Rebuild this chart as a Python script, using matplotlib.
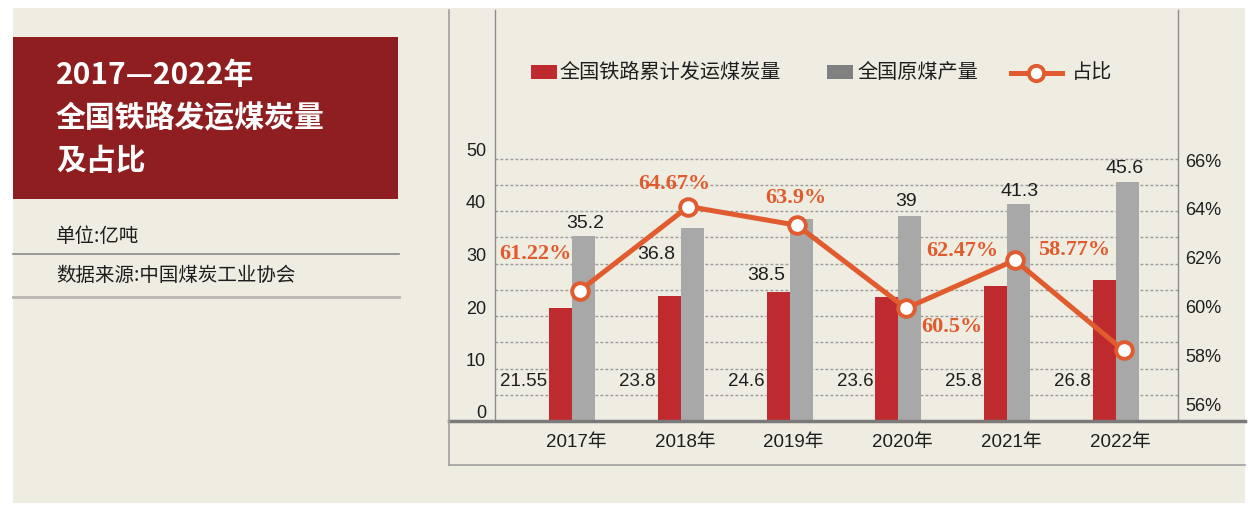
import numpy as np
import matplotlib
matplotlib.use("Agg")
import matplotlib.pyplot as plt
from matplotlib.patches import Rectangle
from matplotlib.lines import Line2D
from matplotlib.transforms import offset_copy


# ==========================
# Data
# ==========================

years = ["2017年", "2018年", "2019年", "2020年", "2021年", "2022年"]

rail_coal = [21.55, 23.8, 24.6, 23.6, 25.8, 26.8]     # 全国铁路累计发运煤炭量 (亿吨)
raw_coal = [35.2, 36.8, 38.5, 39, 41.3, 45.6]         # 全国原煤产量 (亿吨)
share = [61.22, 64.67, 63.9, 60.5, 62.47, 58.77]      # 占比 (%)
share_labels = ["61.22%", "64.67%", "63.9%", "60.5%", "62.47%", "58.77%"]

left_ticks = [0, 10, 20, 30, 40, 50]
right_ticks = [56, 58, 60, 62, 64, 66]


# ==========================
# Style
# ==========================

W, H = 1257, 516

BEIGE = "#EFECE1"
RED = "#BE2A2D"
GRAY = "#A8A8A8"
LEG_GRAY = "#808080"
ORANGE = "#E05B2E"
DARK_RED = "#8E1E20"
TXT = "#1e1e1e"

CJK = ["Noto Sans CJK SC", "DejaVu Sans"]
SANS = ["Liberation Sans", "Noto Sans CJK SC"]


def fx(x):
    return x / W


def fy(y):
    return 1 - y / H


fig = plt.figure(figsize=(W / 100, H / 100), dpi=100, facecolor="white")

# beige panel
fig.patches.append(Rectangle((fx(13), fy(503)), (1245 - 13) / W, (503 - 8) / H,
                             transform=fig.transFigure, facecolor=BEIGE,
                             edgecolor="none", zorder=-5))


# ==========================
# Chart axes
# ==========================

ax = fig.add_axes([fx(495), fy(421), (1178 - 495) / W, (421 - 10) / H])
ax.set_facecolor("none")

x = np.arange(len(years))
bw = 0.211

ax.bar(x - bw / 2, rail_coal, bw, color=RED, zorder=2)
ax.bar(x + bw / 2, raw_coal, bw, color=GRAY, zorder=2)

ax.set_xlim(-0.708, 5.570)
ax.set_ylim(0, 411 / 5.25)

# dotted grid every 5
ax.set_yticks(np.arange(5, 51, 5))
ax.yaxis.grid(True, color="#9a9a9a", lw=1, linestyle=(0, (2, 1.6)))
ax.set_axisbelow(True)
ax.tick_params(axis="y", length=0, labelleft=False)
ax.tick_params(axis="x", length=0, labelbottom=False)

for s in ["top", "bottom"]:
    ax.spines[s].set_visible(False)
for s in ["left", "right"]:
    ax.spines[s].set_color("#8c8c8c")
    ax.spines[s].set_linewidth(1)

# left labels (sit a bit above their lines)
for v in left_ticks:
    ax.text(0, v, str(v), ha="right", va="center", fontsize=13,
            family=SANS, color=TXT,
            transform=offset_copy(ax.get_yaxis_transform(), fig=fig,
                                  x=-9, y=7, units="dots"))

# year labels
for i, yr in enumerate(years):
    ax.text(i, 0, yr, ha="center", va="center", fontsize=13.5,
            family=SANS, color=TXT,
            transform=offset_copy(ax.get_xaxis_transform(), fig=fig,
                                  x=4, y=-22, units="dots"))

# value labels of red bars
for i, v in enumerate(rail_coal):
    ax.annotate(f"{v:g}", xy=(i - bw, 7.6), xytext=(-2, 0),
                textcoords="offset pixels", ha="right", va="center",
                fontsize=13.5, family=SANS, color=TXT)

# value labels of gray bars
gray_offsets = [(2, 13), (-36, -27), (-35, -57), (-4, 15), (1, 13), (-3, 13)]
for i, v in enumerate(raw_coal):
    ax.annotate(f"{v:g}", xy=(i + bw / 2, v), xytext=gray_offsets[i],
                textcoords="offset pixels", ha="center", va="center",
                fontsize=14, family=SANS, color=TXT)


# ==========================
# Share line (right axis)
# ==========================

ax2 = ax.twinx()
ax2.set_ylim(55.88, 55.88 + 411 / 24.4)
ax2.set_yticks([])
for s in ax2.spines.values():
    s.set_visible(False)

ax2.plot(x + 0.07, share, color=ORANGE, lw=3.6, marker="o", ms=12,
         mfc="white", mec=ORANGE, mew=2.8, zorder=3, solid_capstyle="round")

pct_offsets = [(-44, 37), (-14, 23), (-1, 27), (46, -19), (-52, 9), (-49, 100)]
for i, v in enumerate(share):
    ax2.annotate(share_labels[i], xy=(i + 0.07, v), xytext=pct_offsets[i],
                 textcoords="offset pixels", ha="center", va="center",
                 fontsize=16, fontweight="bold", family="Liberation Serif",
                 color=ORANGE)

for v in right_ticks:
    ax2.text(1, v, f"{v}%", ha="left", va="center", fontsize=13,
             family=SANS, color=TXT,
             transform=offset_copy(ax2.get_yaxis_transform(), fig=fig,
                                   x=7, y=12, units="dots"))


# ==========================
# Frame lines
# ==========================

fig.lines.append(Line2D([fx(449), fx(1245)], [fy(421), fy(421)],
                        transform=fig.transFigure, color="#7a7a7a", lw=2.5))
fig.lines.append(Line2D([fx(449), fx(449)], [fy(10), fy(465)],
                        transform=fig.transFigure, color="#a0a0a0", lw=1.2))
fig.lines.append(Line2D([fx(449), fx(1245)], [fy(465), fy(465)],
                        transform=fig.transFigure, color="#a0a0a0", lw=1.2))


# ==========================
# Legend
# ==========================

fig.patches.append(Rectangle((fx(531), fy(79)), 26 / W, 14 / H,
                             transform=fig.transFigure, facecolor=RED,
                             edgecolor="none"))
fig.text(fx(560), fy(72.5), "全国铁路累计发运煤炭量", ha="left", va="center",
         fontsize=14.5, family=CJK, color=TXT)

fig.patches.append(Rectangle((fx(827), fy(79)), 26 / W, 14 / H,
                             transform=fig.transFigure, facecolor=LEG_GRAY,
                             edgecolor="none"))
fig.text(fx(857), fy(72.5), "全国原煤产量", ha="left", va="center",
         fontsize=14.5, family=CJK, color=TXT)

fig.lines.append(Line2D([fx(1011), fx(1062)], [fy(72.5), fy(72.5)],
                        transform=fig.transFigure, color=ORANGE, lw=3.6))
fig.lines.append(Line2D([fx(1036)], [fy(72.5)], transform=fig.transFigure,
                        marker="o", ms=11, mfc="white", mec=ORANGE, mew=2.8,
                        lw=0))
fig.text(fx(1072), fy(72.5), "占比", ha="left", va="center",
         fontsize=14.5, family=CJK, color=TXT)


# ==========================
# Title block
# ==========================

fig.patches.append(Rectangle((fx(13), fy(199)), (398 - 13) / W, (199 - 37) / H,
                             transform=fig.transFigure, facecolor=DARK_RED,
                             edgecolor="none"))

title_lines = ["2017—2022年", "全国铁路发运煤炭量", "及占比"]
for line, yy in zip(title_lines, [75, 118, 161]):
    fig.text(fx(56), fy(yy), line, ha="left", va="center", fontsize=21.5,
             fontweight="bold", family=CJK, color="white")

fig.text(fx(56), fy(237), "单位:亿吨", ha="left", va="center",
         fontsize=14, family=CJK, color=TXT)
fig.lines.append(Line2D([fx(13), fx(399)], [fy(254), fy(254)],
                        transform=fig.transFigure, color="#8a8a8a", lw=1.2))
fig.text(fx(56), fy(275), "数据来源:中国煤炭工业协会", ha="left", va="center",
         fontsize=14, family=CJK, color=TXT)
fig.lines.append(Line2D([fx(13), fx(399)], [fy(297), fy(297)],
                        transform=fig.transFigure, color="#b8b6ae", lw=2))


fig.savefig("out.png", dpi=100, facecolor=fig.get_facecolor())
print("saved out.png")
